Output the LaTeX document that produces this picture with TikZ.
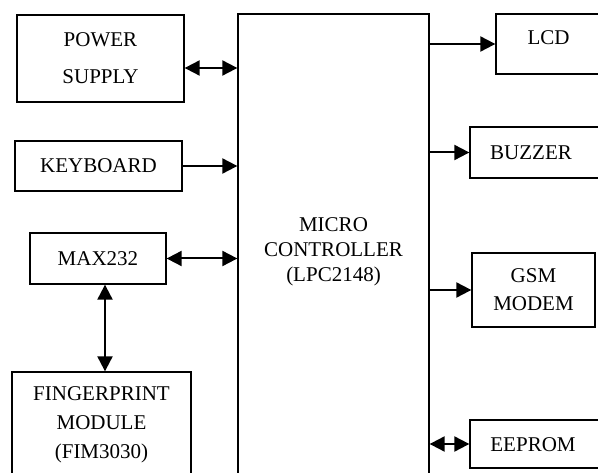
\documentclass[tikz,border=0pt]{standalone}
\usepackage{fontspec}
\setmainfont{Liberation Serif}
\usetikzlibrary{arrows.meta}
\begin{document}
\begin{tikzpicture}[x=1pt,y=-1pt,
  box/.style={draw,line width=1.3pt,inner sep=0pt,align=center},
  lbl/.style={inner sep=0pt,align=center},
  tip/.tip={Triangle[length=15pt,width=15pt]},
  uni/.style={line width=2pt,-tip},
  dbl/.style={line width=2pt,tip-tip},
  every node/.style={font=\fontsize{21}{25}\selectfont}]
\useasboundingbox (0,0) rectangle (598,473);
\clip (0,0) rectangle (598,473);
% left side
\node[box,minimum width=167pt,minimum height=87pt,font=\fontsize{21}{37}\selectfont] (power) at (100.5,58.5) {POWER\\SUPPLY};
\node[box,minimum width=167pt,minimum height=50pt] (kbd) at (98.5,166) {KEYBOARD};
\node[box,minimum width=136pt,minimum height=51pt] (max) at (98,258.5) {MAX232};
\node[box,minimum width=179pt,minimum height=106pt,font=\fontsize{21}{29}\selectfont] (fp) at (101.5,425) {FINGERPRINT\\MODULE\\(FIM3030)};
% micro controller
\node[box,minimum width=191pt,minimum height=476pt] (micro) at (333.5,252) {MICRO\\CONTROLLER\\(LPC2148)};
% right side
\node[box,minimum width=105pt,minimum height=60pt] (lcd) at (548.5,44) {};
\node[lbl] (lcdt) at (548.5,38) {LCD};
\node[box,minimum width=140pt,minimum height=51pt] (buz) at (540,152.5) {};
\node[lbl] (buzt) at (531,153) {BUZZER};
\node[box,minimum width=123pt,minimum height=74pt,font=\fontsize{21}{28}\selectfont] (gsm) at (533.5,290) {GSM\\MODEM};
\node[box,minimum width=140pt,minimum height=48pt] (eep) at (540,444) {};
\node[lbl] (eept) at (533,445) {EEPROM};
% connectors
\draw[dbl] ([yshift=-9.5pt]power.east) -- ([yshift=-9.5pt]power.east -| micro.west);
\draw[uni] (kbd.east) -- (kbd.east -| micro.west);
\draw[dbl] (max.east) -- (max.east -| micro.west);
\draw[dbl] ([xshift=7pt]max.south) -- ([xshift=7pt]max.south |- fp.north);
\draw[uni] (lcd.west -| micro.east) -- (lcd.west);
\draw[uni] (buz.west -| micro.east) -- (buz.west);
\draw[uni] (gsm.west -| micro.east) -- (gsm.west);
\draw[dbl] (eep.west -| micro.east) -- (eep.west);
\end{tikzpicture}
\end{document}
